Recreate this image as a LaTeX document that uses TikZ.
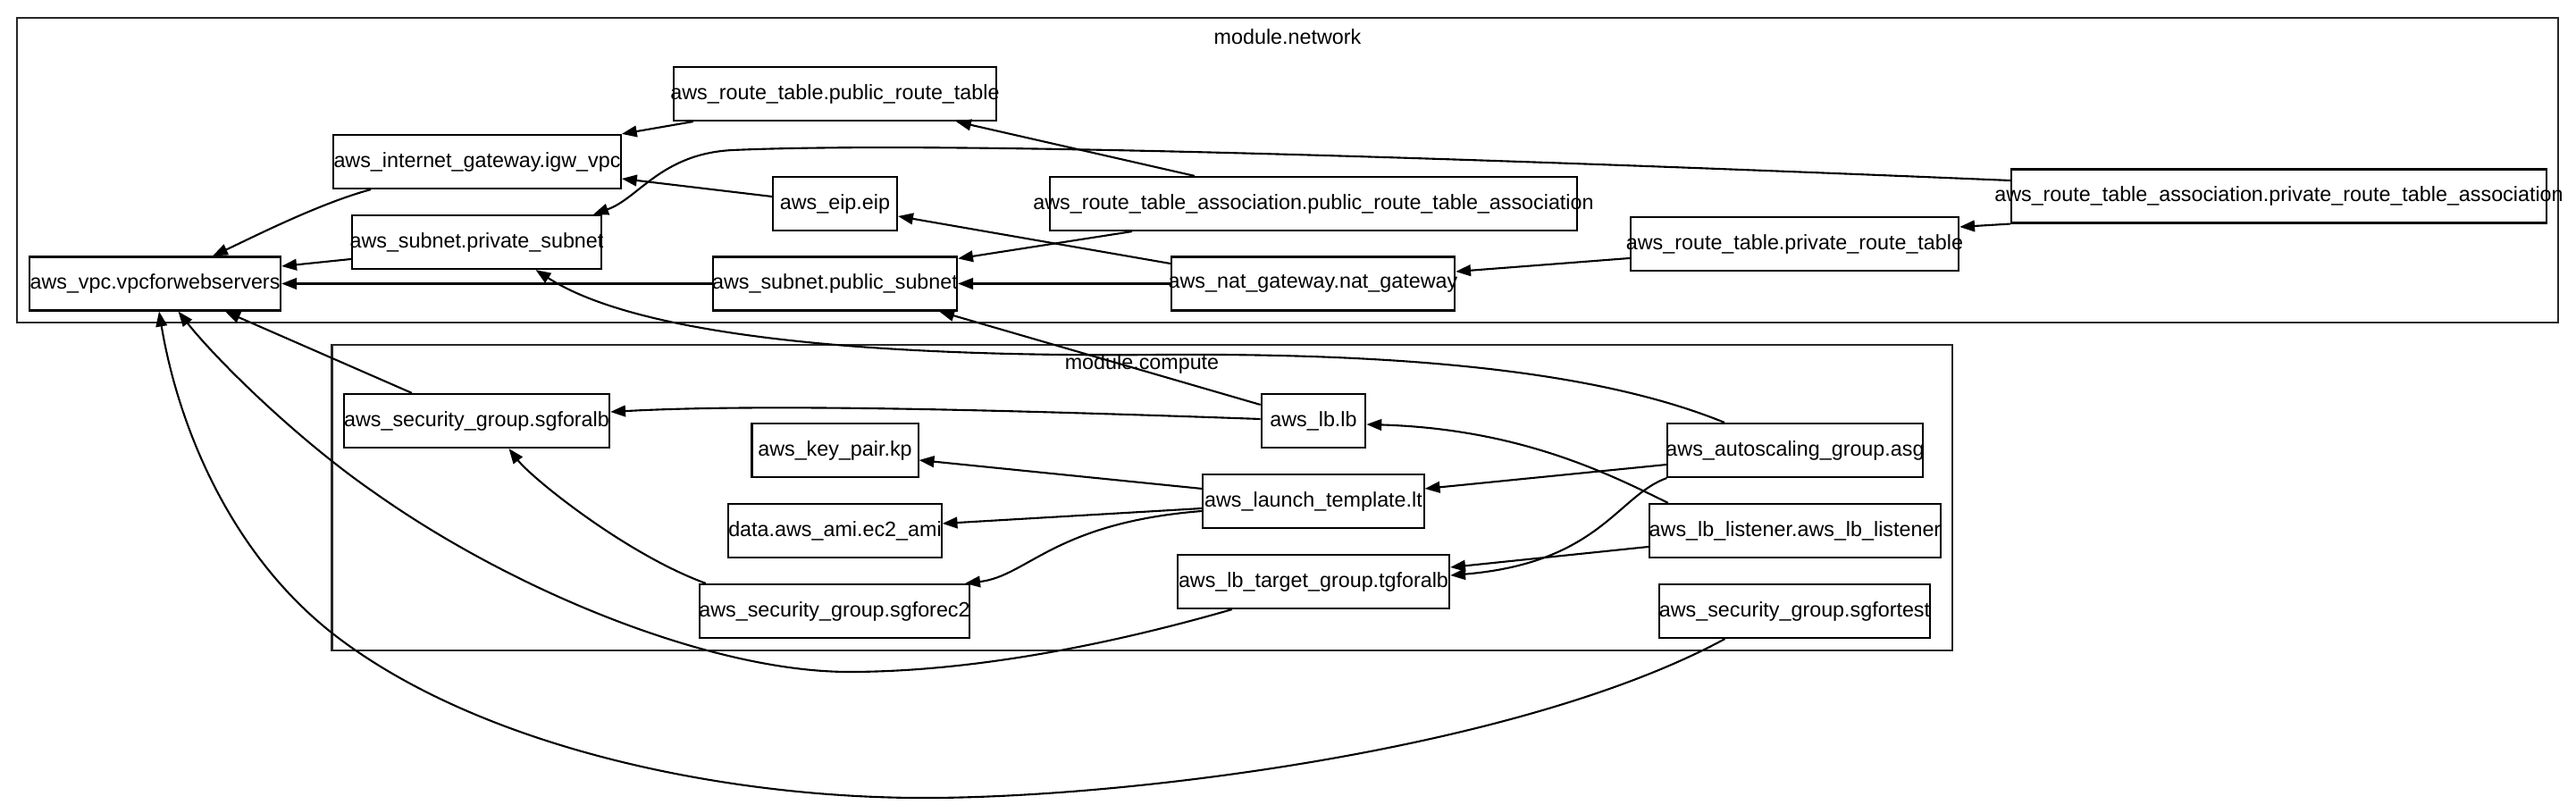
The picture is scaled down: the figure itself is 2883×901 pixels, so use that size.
\documentclass[tikz,border=0pt]{standalone}
\usepackage{fontspec}
\setmainfont{Liberation Sans}
\usetikzlibrary{arrows.meta,calc}

\begin{document}
\begin{tikzpicture}[
  x=0.01cm, y=-0.01cm,
  font=\fontsize{6.63}{8}\selectfont,
  res/.style={draw, line width=0.6pt, minimum height=6mm, inner sep=0pt,
    execute at begin node={\hbox to 0pt\bgroup\hss}, execute at end node={\hss\egroup}},
  grp/.style={draw=black!85, line width=0.7pt, inner sep=0pt},
  arr/.style={-{Triangle[length=4.8pt, width=3.6pt]}, line width=0.6pt}
]
\useasboundingbox (0,0) rectangle (2883,901);

\node[grp, minimum width=28.424cm, minimum height=3.41cm] (network) at (1440.8,190.5) {};
\node (netlbl) at (1441,41) {module.network};
\node[grp, minimum width=18.126cm, minimum height=3.417cm] (compute) at (1278.3,556.85) {};
\node (cmplbl) at (1278,407) {module.compute};

\node[res, minimum width=2.81cm] (vpc) at (173.5,317.5) {aws\_vpc.vpcforwebservers};
\node[res, minimum width=3.215cm] (igw) at (534,181) {aws\_internet\_gateway.igw\_vpc};
\node[res, minimum width=2.79cm] (privsub) at (533.5,271) {aws\_subnet.private\_subnet};
\node[res, minimum width=3.61cm] (pubrt) at (934.5,105) {aws\_route\_table.public\_route\_table};
\node[res, minimum width=1.39cm] (eip) at (934.5,228) {aws\_eip.eip};
\node[res, minimum width=2.73cm] (pubsub) at (934.5,317.5) {aws\_subnet.public\_subnet};
\node[res, minimum width=5.9cm] (pubrta) at (1470,228) {aws\_route\_table\_association.public\_route\_table\_association};
\node[res, minimum width=3.17cm] (nat) at (1469.5,317.5) {aws\_nat\_gateway.nat\_gateway};
\node[res, minimum width=3.67cm] (privrt) at (2008.5,273) {aws\_route\_table.private\_route\_table};
\node[res, minimum width=5.99cm] (privrta) at (2550.5,219.5) {aws\_route\_table\_association.private\_route\_table\_association};

\node[res, minimum width=2.97cm] (sgalb) at (533.5,471) {aws\_security\_group.sgforalb};
\node[res, minimum width=1.86cm] (kp) at (934.5,504) {aws\_key\_pair.kp};
\node[res, minimum width=2.38cm] (ami) at (934.5,594) {data.aws\_ami.ec2\_ami};
\node[res, minimum width=3.02cm] (sgec2) at (934,684) {aws\_security\_group.sgforec2};
\node[res, minimum width=1.165cm] (lb) at (1470,471) {aws\_lb.lb};
\node[res, minimum width=2.47cm] (lt) at (1470,561) {aws\_launch\_template.lt};
\node[res, minimum width=3.04cm] (tg) at (1470,651) {aws\_lb\_target\_group.tgforalb};
\node[res, minimum width=2.85cm] (asg) at (2009,504) {aws\_autoscaling\_group.asg};
\node[res, minimum width=3.26cm] (lis) at (2009,594) {aws\_lb\_listener.aws\_lb\_listener};
\node[res, minimum width=3.03cm] (sgtest) at (2008.5,684) {aws\_security\_group.sgfortest};

\draw[arr] ($(pubrt.south west)+(23,0)$) -- (igw.north east);
\draw[arr] ($(igw.south west)+(43,0)$) .. controls (356,228) and (278,268) .. ($(vpc.north)+(64.5,0)$);
\draw[arr] ($(privsub.west)+(0,19)$) -- ($(vpc.east)+(0,-19.5)$);
\draw[arr] (pubsub.west) -- (vpc.east);
\draw[arr] ($(eip.west)+(0,-8)$) -- ($(igw.east)+(0,19)$);
\draw[arr] ($(privrta.west)+(0,-17.5)$) .. controls (1600,175) and (1050,158) .. (820,168)
  .. controls (740,172) and (715,222) .. ($(privsub.north east)+(-10,0)$);
\draw[arr] ($(pubrta.north)+(-133,0)$) -- ($(pubrt.south)+(135.5,0)$);
\draw[arr] ($(pubrta.south)+(-203,0)$) -- ($(pubsub.north east)+(0,3)$);
\draw[arr] ($(nat.west)+(0,-22.5)$) -- ($(eip.east)+(0,14)$);
\draw[arr] (nat.west) -- (pubsub.east);
\draw[arr] ($(privrt.west)+(0,16)$) -- ($(nat.east)+(0,-13.5)$);
\draw[arr] (privrta.south west) -- ($(privrt.east)+(0,-19)$);

\draw[arr] ($(lb.west)+(0,-18)$) -- ($(pubsub.south east)+(-21,0)$);
\draw[arr] ($(asg.north)+(-79,0)$) .. controls (1800,420) and (1600,395) .. (1300,397)
  .. controls (1000,400) and (720,380) .. ($(privsub.south)+(66,0)$);
\draw[arr] ($(sgalb.north)+(-72.5,0)$) -- ($(vpc.south)+(78.5,0)$);
\draw[arr] ($(lb.west)+(0,-2)$) .. controls (1100,458) and (850,452) .. ($(sgalb.east)+(0,-10)$);
\draw[arr] ($(lt.west)+(0,-14)$) -- ($(kp.east)+(0,11)$);
\draw[arr] ($(lt.west)+(0,8)$) -- ($(ami.east)+(0,-8)$);
\draw[arr] ($(lt.west)+(0,11)$) .. controls (1180,585) and (1150,645) .. ($(sgec2.north east)+(-6,0)$);
\draw[arr] ($(sgec2.north west)+(8,0)$) .. controls (700,620) and (595,535) .. ($(sgalb.south)+(36,0)$);
\draw[arr] ($(asg.west)+(0,16)$) -- ($(lt.east)+(0,-14)$);
\draw[arr] (asg.south west) .. controls (1810,555) and (1790,630) .. ($(tg.east)+(0,-7)$);
\draw[arr] ($(lis.north west)+(22,0)$) .. controls (1800,530) and (1700,480) .. ($(lb.east)+(0,4)$);
\draw[arr] ($(lis.west)+(0,18)$) -- ($(tg.east)+(0,-16)$);
\draw[arr] ($(tg.south west)+(62,0)$) .. controls (1230,725) and (1080,752) .. (950,752)
  .. controls (800,752) and (580,665) .. (420,552)
  .. controls (330,490) and (240,400) .. ($(vpc.south)+(26,0)$);
\draw[arr] ($(sgtest.south)+(-78,0)$) .. controls (1700,840) and (1250,895) .. (1022,893)
  .. controls (800,891) and (540,835) .. (380,715)
  .. controls (260,625) and (200,480) .. ($(vpc.south)+(4.5,0)$);
\end{tikzpicture}
\end{document}
